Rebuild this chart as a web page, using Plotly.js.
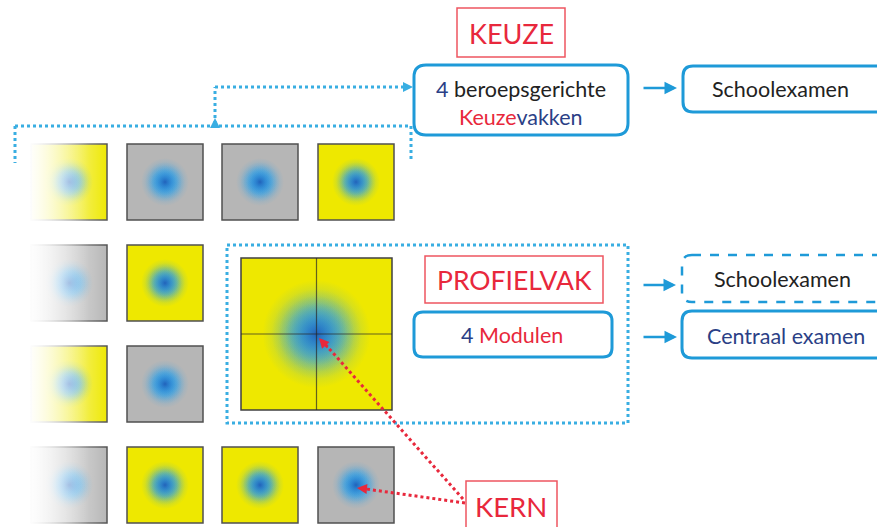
<!DOCTYPE html>
<html>
<head>
<meta charset="utf-8">
<script src="https://cdn.plot.ly/plotly-3.0.1.min.js"></script>
<style>html,body{margin:0;padding:0;background:#fff;}#plot{width:877px;height:527px;}</style>
</head>
<body>
<div id="plot"></div>
<script>
// ---------- content (data) ----------
const tileRows = [
  ['yellow', 'gray', 'gray', 'yellow'],
  ['gray', 'yellow'],
  ['yellow', 'gray'],
  ['gray', 'yellow', 'yellow', 'gray']
];
const bigTileColor = 'yellow';
const labelKeuze = 'KEUZE';
const labelKeuzeVakken1 = '<span style="color:#2b3f86">4</span> beroepsgerichte';
const labelKeuzeVakken2 = '<span style="color:#e8283c">Keuze</span><span style="color:#2b3f86">vakken</span>';
const labelSchool = 'Schoolexamen';
const labelProfiel = 'PROFIELVAK';
const labelModulen = '<span style="color:#2b3f86">4</span> <span style="color:#e8283c">Modulen</span>';
const labelCentraal = 'Centraal examen';
const labelKern = 'KERN';

// ---------- geometry & style ----------
const W = 877, H = 527;
const tileSize = 76;
const colLeft = [31, 127, 222, 318];
const rowTop = [144, 245, 346, 447];
const big = {x0: 241, y0: 258, x1: 392, y1: 410};
const fill = {yellow: '#eee800', gray: '#b6b6b6'};
const BLUE = '#1e9ad8';
const DOT = '#39aee2';
const RED = '#e8283c';
const DARKTXT = '#222222';
const NAVY = '#2b3f86';
const RING = '44,160,232';
const CORE = '#1c48a8';
const ringSizes = [48, 40, 34];   // small tile glow layers (diameter px)
const coreSize = 28;
const bigScale = 2.25;

function rr(x0, y0, x1, y1, r) {
  return `M${x0 + r},${y0} L${x1 - r},${y0} Q${x1},${y0} ${x1},${y0 + r} L${x1},${y1 - r} Q${x1},${y1} ${x1 - r},${y1} L${x0 + r},${y1} Q${x0},${y1} ${x0},${y1 - r} L${x0},${y0 + r} Q${x0},${y0} ${x0 + r},${y0} Z`;
}

const shapes = [];
const centers = {x: [], y: [], s: []};
const fade = {x: [], y: []};

tileRows.forEach((row, r) => {
  row.forEach((c, k) => {
    const x0 = colLeft[k], y0 = rowTop[r];
    shapes.push({type: 'rect', layer: 'below', x0: x0, x1: x0 + tileSize, y0: y0, y1: y0 + tileSize,
      fillcolor: fill[c], line: {color: '#505050', width: 1.5}});
    const cx = x0 + tileSize / 2, cy = y0 + tileSize / 2;
    centers.x.push(cx); centers.y.push(cy); centers.s.push(1);
    if (k === 0) { fade.x.push(cx - 1); fade.y.push(cy); }
  });
});

// big profile tile
shapes.push({type: 'rect', layer: 'below', x0: big.x0, x1: big.x1, y0: big.y0, y1: big.y1,
  fillcolor: fill[bigTileColor], line: {color: '#404040', width: 1.5}});
const bcx = (big.x0 + big.x1) / 2, bcy = (big.y0 + big.y1) / 2;
centers.x.push(bcx); centers.y.push(bcy); centers.s.push(bigScale);
shapes.push({type: 'line', layer: 'above', x0: bcx, x1: bcx, y0: big.y0, y1: big.y1, line: {color: 'rgba(40,40,40,0.7)', width: 1.2}});
shapes.push({type: 'line', layer: 'above', x0: big.x0, x1: big.x1, y0: bcy, y1: bcy, line: {color: 'rgba(40,40,40,0.7)', width: 1.2}});

// boxes
shapes.push({type: 'rect', x0: 457, x1: 565, y0: 8, y1: 57, line: {color: '#ee5560', width: 1.5}});
shapes.push({type: 'path', path: rr(414, 65, 628, 135, 12), line: {color: BLUE, width: 3}});
shapes.push({type: 'path', path: rr(683, 66, 890, 112, 10), line: {color: BLUE, width: 3}});
shapes.push({type: 'rect', x0: 227, x1: 628, y0: 245, y1: 423, line: {color: DOT, width: 3, dash: 'dot'}});
shapes.push({type: 'rect', x0: 425, x1: 603, y0: 256, y1: 303, line: {color: '#ee5560', width: 1.5}});
shapes.push({type: 'path', path: rr(414, 312, 612, 357, 9), line: {color: BLUE, width: 3}});
shapes.push({type: 'path', path: rr(682, 255, 890, 302, 10), line: {color: BLUE, width: 2.5, dash: 'dash'}});
shapes.push({type: 'path', path: rr(682, 311, 890, 358, 10), line: {color: BLUE, width: 3}});
shapes.push({type: 'rect', x0: 466, x1: 557, y0: 481, y1: 545, line: {color: '#ee5560', width: 1.5}});

// blue dotted connector lines
const dl = {color: DOT, width: 3, dash: 'dot'};
shapes.push({type: 'line', x0: 15, x1: 410, y0: 126, y1: 126, line: dl});
shapes.push({type: 'line', x0: 15, x1: 15, y0: 126, y1: 163, line: dl});
shapes.push({type: 'line', x0: 411, x1: 411, y0: 126, y1: 162, line: dl});
shapes.push({type: 'line', x0: 215, x1: 215, y0: 124, y1: 87, line: dl});
shapes.push({type: 'line', x0: 215, x1: 408, y0: 87, y1: 87, line: dl});

// red dotted pointer lines
const rl = {color: RED, width: 3, dash: 'dot'};
shapes.push({type: 'line', x0: 463, x1: 325, y0: 499, y1: 344, line: rl});
shapes.push({type: 'line', x0: 465, x1: 366, y0: 503, y1: 489, line: rl});

const annotations = [];
function txt(x, y, text, size, color) {
  annotations.push({x: x, y: y, xref: 'x', yref: 'y', text: text, showarrow: false,
    font: {family: 'Lato, "Open Sans", sans-serif', size: size, color: color}, xanchor: 'center', yanchor: 'middle'});
}
function arrow(x, y, ax, ay, color, w, head) {
  annotations.push({x: x, y: y, ax: ax, ay: ay, xref: 'x', yref: 'y', axref: 'x', ayref: 'y', text: '',
    showarrow: true, arrowhead: head, arrowsize: 1, arrowwidth: w, arrowcolor: color, standoff: 0});
}
txt(511, 33, labelKeuze, 27, RED);
txt(521, 89, labelKeuzeVakken1, 21.5, DARKTXT);
txt(521, 117, labelKeuzeVakken2, 21.5, NAVY);
txt(780, 89, labelSchool, 21.5, DARKTXT);
txt(514, 280, labelProfiel, 26.5, RED);
txt(512, 335, labelModulen, 21.5, NAVY);
txt(782, 279, labelSchool, 21.5, DARKTXT);
txt(786, 336, labelCentraal, 21.5, NAVY);
txt(511, 506, labelKern, 27.5, RED);

arrow(677, 88, 642, 88, BLUE, 2.5, 2);
arrow(676, 285, 642, 285, BLUE, 2.5, 2);
arrow(677, 337, 642, 337, BLUE, 2.5, 2);
arrow(413, 87, 403, 87, DOT, 2, 2);
arrow(215, 118, 215, 128, DOT, 2, 2);
arrow(319, 338, 329, 349, RED, 2, 2);
arrow(357, 488, 368, 489, RED, 2, 2);

const traces = [];
ringSizes.forEach(d => {
  traces.push({type: 'scatter', mode: 'markers', x: centers.x, y: centers.y, hoverinfo: 'skip',
    marker: {symbol: 'circle', size: centers.s.map(s => d * s), color: 'rgba(' + RING + ',0)', line: {width: 0},
      gradient: {type: 'radial', color: 'rgba(' + RING + ',1)'}}});
});
traces.push({type: 'scatter', mode: 'markers', x: centers.x, y: centers.y, hoverinfo: 'skip',
  marker: {symbol: 'circle', size: centers.s.map(s => coreSize * s), color: 'rgba(' + RING + ',0)', line: {width: 0},
    gradient: {type: 'radial', color: CORE}}});
// left-column fade to white
traces.push({type: 'scatter', mode: 'markers', x: fade.x, y: fade.y, hoverinfo: 'skip',
  marker: {symbol: 'square', size: tileSize + 6, color: 'rgba(255,255,255,1)', line: {width: 0},
    gradient: {type: 'horizontal', color: 'rgba(255,255,255,0)'}}});
traces.push({type: 'scatter', mode: 'markers', x: fade.x.map(v => v - 20), y: fade.y, hoverinfo: 'skip',
  marker: {symbol: 'square', size: tileSize + 6, color: 'rgba(255,255,255,0.9)', line: {width: 0},
    gradient: {type: 'horizontal', color: 'rgba(255,255,255,0)'}}});

const layout = {
  width: W, height: H, autosize: false,
  margin: {l: 0, r: 0, t: 0, b: 0, pad: 0},
  paper_bgcolor: '#ffffff', plot_bgcolor: '#ffffff',
  showlegend: false,
  xaxis: {range: [0, W], visible: false, fixedrange: true},
  yaxis: {range: [H, 0], visible: false, fixedrange: true},
  shapes: shapes, annotations: annotations
};
Plotly.newPlot('plot', traces, layout, {staticPlot: true, displayModeBar: false});
</script>
</body>
</html>
